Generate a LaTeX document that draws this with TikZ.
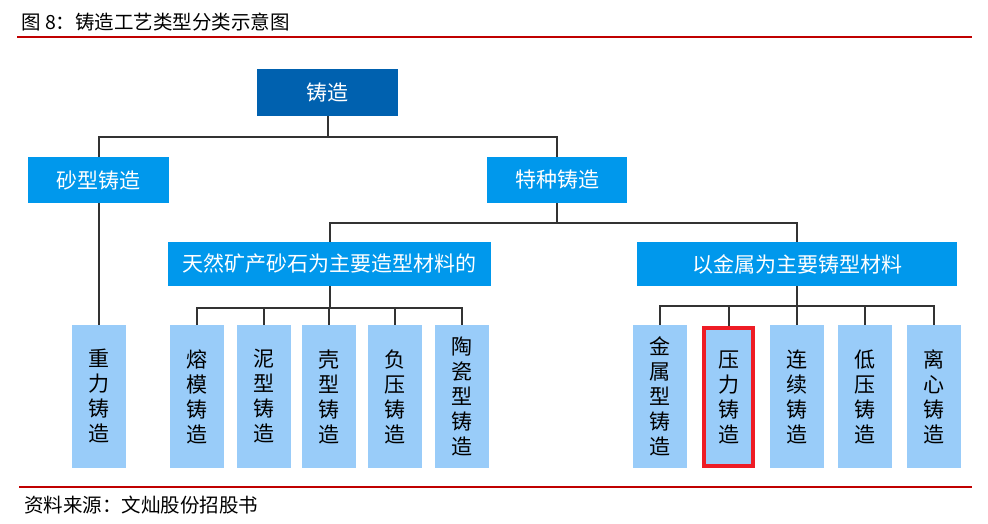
\documentclass[tikz,border=0pt]{standalone}
\usepackage{fontspec}
\setmainfont{Noto Sans CJK SC}
\definecolor{rootblue}{HTML}{0061AF}
\definecolor{midblue}{HTML}{0098EC}
\definecolor{leafblue}{HTML}{99CCF9}
\definecolor{linegray}{HTML}{333333}
\definecolor{markred}{HTML}{EE1C25}
\definecolor{rulered}{HTML}{C00000}

\tikzstyle{root}=[rectangle,fill=rootblue,text=white,minimum width=141pt,minimum height=47pt,inner sep=0pt,font=\fontsize{21}{25}\selectfont]
\tikzstyle{mid}=[rectangle,fill=midblue,text=white,minimum height=46pt,inner sep=0pt,font=\fontsize{21}{25}\selectfont]
\tikzstyle{leaf}=[rectangle,fill=leafblue,text=black,minimum width=54pt,minimum height=143pt,inner sep=0pt,align=center,font=\fontsize{21}{25}\selectfont]
\tikzstyle{marked}=[leaf,draw=markred,line width=4pt,minimum width=49pt,minimum height=138pt]
\tikzstyle{edge} = [draw,line width=2pt,linegray,-]
\tikzstyle{caption}=[anchor=west,inner sep=0pt,font=\fontsize{19.5}{22}\selectfont]

\begin{document}
\begin{tikzpicture}[x=1pt,y=-1pt]
	\useasboundingbox (0,0) rectangle (988,524);
			\node[caption] (title) at (21,22) {图 8：铸造工艺类型分类示意图};
			\draw[rulered,line width=2pt] (17,37) -- (972,37);
			% the tree
			\node[root] (cast) at (327.5,92.5) {铸造};
			\node[mid,minimum width=141pt] (sand) at (98.5,180) {砂型铸造};
			\node[mid,minimum width=140pt] (special) at (557,180) {特种铸造};
			\node[mid,minimum width=323pt,minimum height=44pt] (stone) at (329.5,264) {天然矿产砂石为主要造型材料的};
			\node[mid,minimum width=320pt,minimum height=44pt] (metal) at (797,264) {以金属为主要铸型材料};
			% the leaves
			\node[leaf] (gravity) at (99,396.5) {重\\力\\铸\\造};
			\node[leaf] (invest) at (196.5,396.5) {熔\\模\\铸\\造};
			\node[leaf] (clay) at (263.5,396.5) {泥\\型\\铸\\造};
			\node[leaf] (shell) at (328.5,396.5) {壳\\型\\铸\\造};
			\node[leaf] (vacuum) at (395,396.5) {负\\压\\铸\\造};
			\node[leaf] (ceramic) at (461.5,396.5) {陶\\瓷\\型\\铸\\造};
			\node[leaf] (mould) at (659.5,396.5) {金\\属\\型\\铸\\造};
			\node[marked] (die) at (728.5,397) {压\\力\\铸\\造};
			\node[leaf] (contin) at (796.5,396.5) {连\\续\\铸\\造};
			\node[leaf] (lowp) at (865,396.5) {低\\压\\铸\\造};
			\node[leaf] (centri) at (934,396.5) {离\\心\\铸\\造};
   			 % Connect boxes with elbow lines
   			\foreach \source/ \dest/ \drop in {cast/sand/21, cast/special/21, special/stone/20, special/metal/20,
   					stone/invest/22, stone/clay/22, stone/shell/22, stone/vacuum/22, stone/ceramic/22,
   					metal/mould/20, metal/die/20, metal/contin/20, metal/lowp/20, metal/centri/20}
        			\path[edge] (\source.south) -- ++(0,\drop) -| (\dest.north);
			\path[edge] (sand.south) -- (sand.south |- gravity.north);
			% source line
			\draw[rulered,line width=2pt] (19,487) -- (972,487);
			\node[caption] (source) at (24,505) {资料来源：文灿股份招股书};
		\end{tikzpicture}
\end{document}
